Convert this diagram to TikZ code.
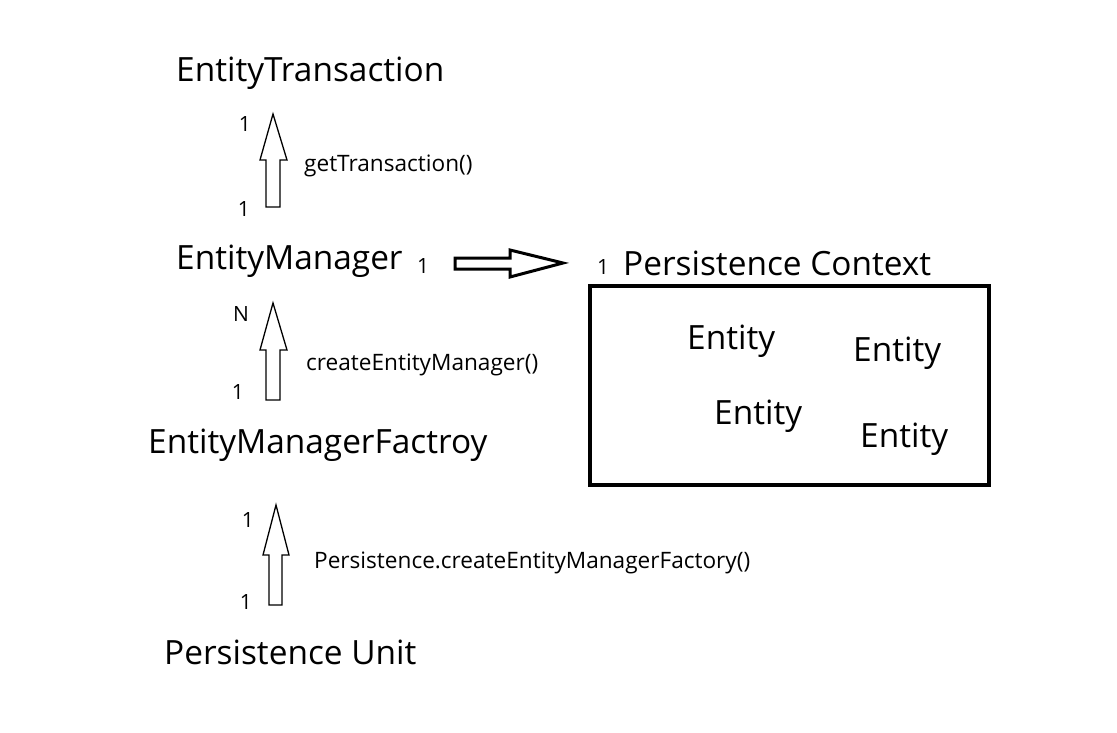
\documentclass[tikz,border=0pt]{standalone}
\usepackage{fontspec}
\setmainfont{Open Sans}
\begin{document}
\begin{tikzpicture}[x=1pt,y=-1pt,
  big/.style={anchor=west,inner sep=0pt,font=\fontsize{33.4}{38}\selectfont},
  small/.style={anchor=west,inner sep=0pt,font=\fontsize{22.6}{26}\selectfont},
  mult/.style={anchor=center,inner sep=0pt,font=\fontsize{21}{24}\selectfont},
  hollow/.style={draw=black,fill=white,line width=1.3pt,line join=miter},
  hollowthick/.style={draw=black,fill=white,line width=3pt,line join=miter}]
\useasboundingbox (0,0) rectangle (1117,733);
% texts
\node[big] (et) at (176,73) {EntityTransaction};
\node[big] (em) at (176,261) {EntityManager};
\node[big] (emf) at (148,445) {EntityManagerFactroy};
\node[big] (pu) at (164,652) {Persistence Unit};
\node[big] (pc) at (623,263) {Persistence Context};
\node[small] (l1) at (304,166) {getTransaction()};
\node[small] (l2) at (306,365) {createEntityManager()};
\node[small] (l3) at (314,563) {Persistence.createEntityManagerFactory()};
\node[mult] at (245,124) {1};
\node[mult] at (244,209) {1};
\node[mult] at (241,314) {N};
\node[mult] at (238,392) {1};
\node[mult] at (248,520) {1};
\node[mult] at (246,602) {1};
\node[mult] at (423,266) {1};
\node[mult] at (603,267) {1};
% persistence context box
\draw[line width=4pt] (590,286) rectangle (989,485);
\node[big] (e1) at (687,341) {Entity};
\node[big] (e2) at (853,353) {Entity};
\node[big] (e3) at (714,416) {Entity};
\node[big] (e4) at (860,439) {Entity};
% hollow up arrows
\draw[hollow] (266,207) -- (266,160) -- (260,160) -- (273,114) -- (287,160) -- (280,160) -- (280,207) -- cycle;
\draw[hollow] (266,400) -- (266,350) -- (260,350) -- (273,303) -- (287,350) -- (280,350) -- (280,400) -- cycle;
\draw[hollow] (269,605) -- (269,555) -- (263,555) -- (276,505) -- (289,555) -- (282,555) -- (282,605) -- cycle;
% hollow right arrow
\draw[hollowthick] (455,258) -- (510,258) -- (510,250) -- (563,263) -- (510,277) -- (510,269) -- (455,269) -- cycle;
\end{tikzpicture}
\end{document}
